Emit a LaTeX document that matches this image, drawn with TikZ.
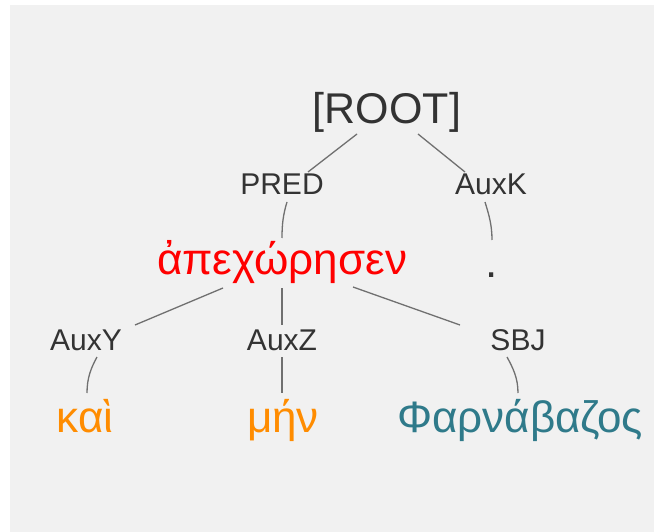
\documentclass[tikz,border=0pt]{standalone}
\usepackage{fontspec}
\setmainfont{Liberation Sans}
\usetikzlibrary{calc}
\definecolor{bgc}{HTML}{F1F1F1}
\definecolor{txt}{HTML}{333333}
\definecolor{edge}{HTML}{707070}
\definecolor{wred}{HTML}{FF0000}
\definecolor{worange}{HTML}{FF8C00}
\definecolor{wteal}{HTML}{2F7A8A}
\tikzset{
  lbl/.style={anchor=base, inner sep=0pt, text=txt, font=\fontsize{30}{33}\selectfont},
  rootnode/.style={anchor=base, inner sep=0pt, text=txt, font=\fontsize{43}{48}\selectfont},
  word/.style={anchor=base, inner sep=0pt, font=\fontsize{44}{48}\selectfont},
  link/.style={draw=edge, line width=1.3pt}
}
\begin{document}
\begin{tikzpicture}[x=1pt,y=-1pt]
\useasboundingbox (0,0) rectangle (654,532);
\fill[white] (0,0) rectangle (654,532);
\fill[bgc] (10,5) rectangle (654,532);
% nodes
\node[rootnode] (root) at (387,124) {[ROOT]};
\node[lbl] (pred) at (282,195) {PRED};
\node[lbl] (auxk) at (491,195) {AuxK};
\node[word, text=wred] (verb) at (282,275) {ἀπεχώρησεν};
\node[word, text=txt] (dot) at (492,277) {.};
\node[lbl] (auxy) at (86,350) {AuxY};
\node[lbl] (auxz) at (282,350) {AuxZ};
\node[lbl] (sbj) at (518,350) {SBJ};
\node[word, text=worange] (kai) at (85,432) {καὶ};
\node[word, text=worange] (men) at (283,432) {μήν};
\node[word, text=wteal] (phar) at (520,432) {Φαρνάβαζος};
% links
\draw[link] ($(root.base)+(-30,10)$) -- ($(pred.base)+(26,-23)$);
\draw[link] ($(root.base)+(31,10)$) -- ($(auxk.base)+(-26,-23)$);
\draw[link] ($(pred.base)+(5,7)$) .. controls ($(pred.base)+(1,20)$) and ($(pred.base)+(0,30)$) .. ($(verb.base)+(0,-37)$);
\draw[link] ($(auxk.base)+(-6,7)$) .. controls ($(auxk.base)+(-2,20)$) and ($(auxk.base)+(1,30)$) .. ($(dot.base)+(0,-37)$);
\draw[link] ($(verb.base)+(-59,13)$) -- ($(auxy.base)+(49,-25)$);
\draw[link] ($(verb.base)+(0,13)$) -- ($(auxz.base)+(0,-25)$);
\draw[link] ($(verb.base)+(71,12)$) -- ($(sbj.base)+(-58,-25)$);
\draw[link] ($(auxy.base)+(11,7)$) .. controls ($(auxy.base)+(5,18)$) and ($(auxy.base)+(1,28)$) .. ($(kai.base)+(2,-39)$);
\draw[link] ($(auxz.base)+(0,7)$) -- ($(men.base)+(-1,-39)$);
\draw[link] ($(sbj.base)+(-11,7)$) .. controls ($(sbj.base)+(-5,18)$) and ($(sbj.base)+(0,28)$) .. ($(phar.base)+(-2,-39)$);
\end{tikzpicture}
\end{document}
